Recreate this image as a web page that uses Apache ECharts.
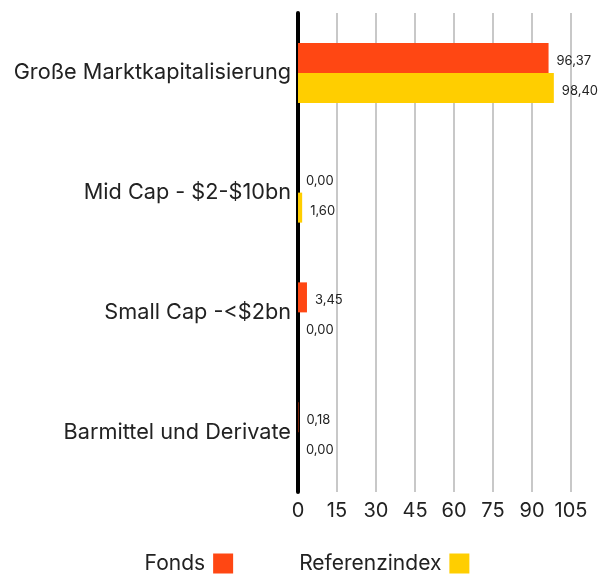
<!DOCTYPE html>
<html><head><meta charset="utf-8">
<script src="https://cdn.jsdelivr.net/npm/echarts@6/dist/echarts.min.js"></script>
<style>html,body{margin:0;padding:0;background:#fff}#c{width:614px;height:574px}</style>
</head><body><div id="c"></div>
<script>
const categories = ["Große Marktkapitalisierung", "Mid Cap - $2-$10bn", "Small Cap -<$2bn", "Barmittel und Derivate"];
const fonds = [96.37, 0.00, 3.45, 0.18];
const referenz = [98.40, 1.60, 0.00, 0.00];
const seriesNames = ["Fonds", "Referenzindex"];
const xTicks = [0, 15, 30, 45, 60, 75, 90, 105];

const FONT = "Inter";
const chart = echarts.init(document.getElementById('c'), null, {renderer: 'canvas'});
const fmt = p => p.value.toFixed(2).replace('.', ',');
chart.setOption({
  animation: false,
  textStyle: {fontFamily: FONT},
  grid: {left: 298, right: 43, top: 13, bottom: 82, containLabel: false},
  legend: {
    bottom: 0, left: 'center', align: 'right', padding: 0,
    itemWidth: 20, itemHeight: 20, itemGap: 66,
    icon: 'rect',
    textStyle: {fontSize: 21, color: '#222', fontFamily: FONT, padding: [0, 3, 0, 0]},
    data: seriesNames
  },
  xAxis: {
    type: 'value', min: xTicks[0], max: xTicks[xTicks.length - 1], interval: 15,
    axisLine: {show: false}, axisTick: {show: false},
    axisLabel: {fontSize: 20, color: '#222', margin: 9, fontFamily: FONT},
    splitLine: {show: true, lineStyle: {color: '#c8c8c8', width: 2}}
  },
  yAxis: {
    type: 'category', data: categories, inverse: true,
    axisLine: {show: true, lineStyle: {color: '#000', width: 4}},
    axisTick: {show: false},
    axisLabel: {fontSize: 21.7, color: '#222', margin: 7, fontFamily: FONT, padding: [13, 0, 0, 0]}
  },
  series: [
    {name: seriesNames[0], type: 'bar', data: fonds, barWidth: 30, barGap: '0%',
     itemStyle: {color: '#FF4713'},
     label: {show: true, position: 'right', distance: 8, offset: [0, 3], fontSize: 13, color: '#222', formatter: fmt}},
    {name: seriesNames[1], type: 'bar', data: referenz, barWidth: 30, barGap: '0%',
     itemStyle: {color: '#FFCE00'},
     label: {show: true, position: 'right', distance: 8, offset: [0, 3], fontSize: 13, color: '#222', formatter: fmt}}
  ]
});
</script></body></html>
